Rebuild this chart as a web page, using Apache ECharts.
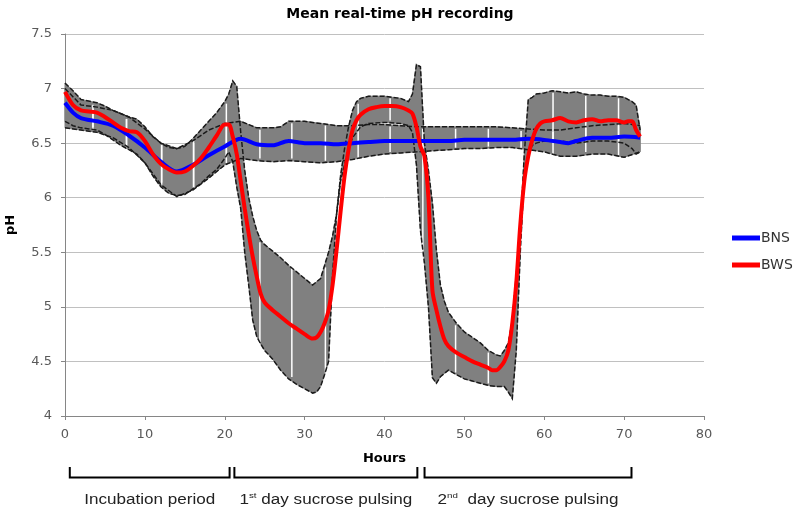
<!DOCTYPE html>
<html>
<head>
    <meta charset="utf-8">
    <title>Mean real-time pH recording</title>
    <script src="https://cdn.jsdelivr.net/npm/echarts@6/dist/echarts.min.js"></script>
    <style>
        html, body { margin: 0; padding: 0; background: #fff; }
        #chart { width: 800px; height: 511px; }
    </style>
</head>
<body>
<div id="chart"></div>
<script>
    // ---- data: [hour, pH] ----
    var bnsMean = [[0, 6.87], [1, 6.78], [2, 6.73], [4, 6.70], [6, 6.66], [8, 6.57], [10, 6.46], [12, 6.33], [14, 6.24],
        [16, 6.30], [18, 6.39], [20, 6.47], [22, 6.54], [24, 6.49], [26, 6.48], [28, 6.52], [30, 6.50], [32, 6.50],
        [34, 6.49], [36, 6.50], [38, 6.51], [40, 6.52], [42, 6.52], [44, 6.52], [46, 6.52], [48, 6.52], [50, 6.53],
        [52, 6.53], [54, 6.53], [56, 6.53], [58, 6.54], [60, 6.53], [62, 6.51], [63, 6.50], [64, 6.52], [66, 6.55],
        [68, 6.55], [70, 6.56], [72, 6.55]];
    var bnsUpper = [[0, 7.0], [2, 6.85], [4, 6.83], [6, 6.80], [8, 6.74], [10, 6.63], [12, 6.50], [14, 6.45], [16, 6.52],
        [18, 6.62], [20, 6.68], [22, 6.70], [24, 6.64], [26, 6.64], [27, 6.65], [28, 6.70], [30, 6.70], [32, 6.68],
        [34, 6.66], [36, 6.66], [38, 6.67], [40, 6.67], [42, 6.66], [44, 6.65], [46, 6.65], [48, 6.65], [50, 6.65],
        [52, 6.65], [54, 6.65], [56, 6.64], [58, 6.63], [60, 6.62], [62, 6.62], [64, 6.64], [66, 6.66], [68, 6.67],
        [70, 6.68], [72, 6.66]];
    var bnsLower = [[0, 6.64], [2, 6.62], [4, 6.60], [6, 6.55], [8, 6.46], [10, 6.32], [12, 6.12], [14, 6.01], [16, 6.07],
        [18, 6.18], [20, 6.30], [22, 6.36], [24, 6.34], [26, 6.33], [28, 6.34], [30, 6.33], [32, 6.32], [34, 6.33],
        [36, 6.35], [38, 6.38], [40, 6.40], [42, 6.41], [44, 6.42], [46, 6.43], [48, 6.44], [50, 6.45], [52, 6.45],
        [54, 6.46], [56, 6.46], [58, 6.44], [60, 6.42], [62, 6.38], [64, 6.38], [66, 6.40], [68, 6.40], [70, 6.37],
        [72, 6.42]];

    var bwsMean = [[0, 6.97], [1, 6.85], [2, 6.80], [3, 6.79], [4, 6.78], [5, 6.74], [6, 6.69], [7, 6.64], [8, 6.61],
        [9, 6.60], [10, 6.52], [11, 6.40], [12, 6.31], [13, 6.26], [14, 6.23], [15, 6.24], [16, 6.29], [17, 6.36],
        [18, 6.46], [19, 6.57], [20, 6.67], [20.5, 6.67], [21, 6.56], [21.5, 6.40], [22, 6.15], [22.5, 5.90],
        [23, 5.67], [23.5, 5.46], [24, 5.28], [24.5, 5.12], [25, 5.04], [26, 4.97], [27, 4.91], [28, 4.85], [29, 4.80],
        [30, 4.75], [31, 4.71], [31.5, 4.72], [32, 4.77], [32.5, 4.85], [33, 4.97], [33.5, 5.20], [34, 5.52],
        [34.5, 5.87], [35, 6.20], [35.5, 6.44], [36, 6.62], [36.5, 6.71], [37, 6.76], [38, 6.81], [39, 6.83],
        [40, 6.84], [41, 6.84], [42, 6.83], [43, 6.80], [43.5, 6.77], [44, 6.65], [44.5, 6.47], [45, 6.38],
        [45.5, 6.00], [46, 5.15], [46.5, 4.97], [47, 4.82], [47.5, 4.70], [48, 4.64], [49, 4.58], [50, 4.54],
        [51, 4.50], [52, 4.47], [53, 4.44], [53.5, 4.42], [54, 4.42], [54.5, 4.45], [55, 4.50], [55.5, 4.60],
        [56, 4.85], [56.5, 5.22], [57, 5.75], [57.5, 6.15], [58, 6.38], [58.5, 6.53], [59, 6.63], [59.5, 6.68],
        [60, 6.70], [61, 6.71], [62, 6.73], [63, 6.70], [64, 6.69], [65, 6.71], [66, 6.72], [67, 6.70], [68, 6.71],
        [69, 6.71], [70, 6.69], [70.5, 6.70], [71, 6.70], [71.5, 6.62], [72, 6.56]];
    var bwsUpper = [[0, 7.05], [1, 6.98], [2, 6.90], [4, 6.87], [5, 6.84], [6, 6.80], [7, 6.77], [8, 6.74], [9, 6.72],
        [10, 6.65], [11, 6.56], [12, 6.50], [13, 6.46], [14, 6.45], [15, 6.47], [16, 6.54], [17, 6.62], [18, 6.70],
        [19, 6.78], [20, 6.88], [20.5, 6.95], [21, 7.07], [21.5, 7.02], [22, 6.60], [22.5, 6.25], [23, 6.00],
        [23.5, 5.83], [24, 5.70], [24.5, 5.61], [25, 5.57], [26, 5.51], [27, 5.45], [28, 5.38], [29, 5.32],
        [30, 5.26], [31, 5.20], [32, 5.26], [32.5, 5.38], [33, 5.50], [33.5, 5.65], [34, 5.85], [34.5, 6.20],
        [35, 6.45], [35.5, 6.65], [36, 6.80], [36.5, 6.88], [37, 6.91], [38, 6.93], [40, 6.93], [42, 6.91],
        [43, 6.88], [43.5, 6.95], [44, 7.22], [44.5, 7.20], [45, 6.50], [45.5, 6.25], [46, 5.95], [46.5, 5.52],
        [47, 5.20], [47.5, 5.05], [48, 4.95], [49, 4.85], [50, 4.77], [51, 4.72], [52, 4.67], [53, 4.60],
        [54, 4.56], [54.5, 4.55], [55, 4.60], [55.5, 4.67], [56, 4.88], [56.5, 5.30], [57, 5.70], [57.5, 6.40],
        [58, 6.90], [58.5, 6.92], [59, 6.95], [60, 6.96], [61, 6.98], [62, 6.97], [63, 6.96], [64, 6.97],
        [65, 6.95], [66, 6.94], [67, 6.94], [68, 6.93], [69, 6.93], [70, 6.92], [71, 6.88], [71.5, 6.85], [72, 6.62]];
    var bwsLower = [[0, 6.70], [1, 6.66], [2, 6.64], [3, 6.63], [4, 6.62], [5, 6.58], [6, 6.53], [7, 6.48], [8, 6.44],
        [9, 6.40], [10, 6.32], [11, 6.20], [12, 6.10], [13, 6.04], [14, 6.02], [15, 6.03], [16, 6.08], [17, 6.13],
        [18, 6.20], [19, 6.26], [20, 6.36], [20.5, 6.42], [21, 6.33], [21.5, 6.10], [22, 5.90], [22.5, 5.50],
        [23, 5.20], [23.5, 4.88], [24, 4.73], [24.5, 4.66], [25, 4.60], [26, 4.52], [27, 4.42], [28, 4.34],
        [29, 4.29], [30, 4.25], [31, 4.21], [31.5, 4.22], [32, 4.27], [32.5, 4.38], [33, 4.50], [33.5, 5.30],
        [34, 5.85], [34.5, 6.15], [35, 6.30], [35.5, 6.45], [36, 6.55], [36.5, 6.60], [37, 6.65], [38, 6.68],
        [40, 6.69], [42, 6.68], [43, 6.66], [43.5, 6.60], [44, 6.30], [44.5, 5.70], [45, 5.40], [45.5, 5.00],
        [46, 4.35], [46.5, 4.30], [47, 4.36], [48, 4.42], [49, 4.38], [50, 4.34], [51, 4.32], [52, 4.30],
        [53, 4.28], [54, 4.27], [55, 4.27], [55.5, 4.22], [56, 4.16], [56.5, 4.60], [57, 5.50], [57.5, 6.20],
        [58, 6.40], [58.5, 6.48], [59, 6.50], [60, 6.52], [62, 6.52], [64, 6.50], [66, 6.52], [68, 6.52],
        [70, 6.50], [71, 6.45], [71.5, 6.40], [72, 6.42]];

    // hours where the error bars leave a white gap
    var gapHours = [3.5, 7.7, 12.1, 16.1, 20.2, 24.4, 28.4, 32.6, 36.7, 40.7, 44.8, 48.9, 53, 57.1, 61.1, 65.2, 69.3];

    var periods = [
        {from: 0.6, to: 20.6, label: 'Incubation period'},
        {from: 21.2, to: 44.1, label: '1{s|st} day sucrose pulsing'},
        {from: 45.0, to: 70.9, label: '2{s|nd}  day sucrose pulsing'}
    ];

    var chart = echarts.init(document.getElementById('chart'));

    function nearest(arr, h) {
        var best = arr[0];
        arr.forEach(function (p) {
            if (Math.abs(p[0] - h) < Math.abs(best[0] - h)) best = p;
        });
        return best[1];
    }

    // error bands (gray fill, white gaps, dark capped edges)
    function renderBands(params, api) {
        var bands = [[bnsUpper, bnsLower], [bwsUpper, bwsLower]];
        var fills = [], gaps = [], edges = [];
        bands.forEach(function (b) {
            var top = b[0].map(function (p) { return api.coord(p); });
            var bot = b[1].map(function (p) { return api.coord(p); });
            fills.push({
                type: 'polygon',
                shape: {points: top.concat(bot.slice().reverse())},
                style: {fill: '#808080', stroke: '#808080', lineWidth: 1}
            });
            gapHours.forEach(function (h) {
                var p1 = api.coord([h, nearest(b[0], h)]);
                var p2 = api.coord([h, nearest(b[1], h)]);
                gaps.push({
                    type: 'line',
                    shape: {x1: p1[0], y1: p1[1] + 2, x2: p2[0], y2: p2[1] - 2},
                    style: {stroke: '#ffffff', lineWidth: 1.5}
                });
            });
            [top, bot].forEach(function (pts) {
                edges.push({
                    type: 'polyline',
                    shape: {points: pts},
                    style: {stroke: '#1a1a1a', lineWidth: 1.5, lineDash: [5, 2], fill: null}
                });
            });
        });
        return {type: 'group', children: fills.concat(gaps, edges)};
    }

    // brackets under the axis, one per period
    var graphics = [];
    periods.forEach(function (p) {
        var x1 = 65 + p.from * 7.99;
        var x2 = 65 + p.to * 7.99;
        graphics.push({
            type: 'polyline',
            shape: {points: [[x1, 467], [x1, 477.5], [x2, 477.5], [x2, 467]]},
            style: {stroke: '#000', lineWidth: 2, fill: null}
        });
        graphics.push({
            type: 'text',
            x: (x1 + x2) / 2,
            y: 500,
            scaleX: 1.22,
            style: {
                text: p.label,
                fontFamily: 'Liberation Sans',
                fontSize: 14,
                fill: '#222',
                align: 'center',
                verticalAlign: 'middle',
                rich: {
                    s: {fontSize: 8, verticalAlign: 'top', lineHeight: 16, fill: '#222'}
                }
            }
        });
    });

    var option = {
        animation: false,
        backgroundColor: '#fff',
        textStyle: {fontFamily: 'DejaVu Sans'},
        title: {
            text: 'Mean real-time pH recording',
            left: 'center',
            top: 2,
            textStyle: {fontSize: 14, fontWeight: 'bold', color: '#000', fontFamily: 'DejaVu Sans'}
        },
        legend: {
            data: ['BNS', 'BWS'],
            orient: 'vertical',
            left: 727,
            top: 226,
            icon: 'rect',
            itemWidth: 28,
            itemHeight: 5,
            itemGap: 13,
            textStyle: {fontSize: 14, color: '#333', padding: [0, 0, 0, -4]}
        },
        grid: {left: 65, right: 96, top: 34, bottom: 95, outerBoundsMode: 'none', containLabel: false},
        xAxis: {
            type: 'value',
            min: 0,
            max: 80,
            interval: 10,
            name: 'Hours',
            nameLocation: 'middle',
            nameGap: 36,
            nameTextStyle: {fontWeight: 'bold', fontSize: 13, color: '#000'},
            axisLine: {lineStyle: {color: '#868686'}},
            axisTick: {show: true, length: 4, lineStyle: {color: '#868686'}},
            axisLabel: {color: '#595959', fontSize: 13, margin: 12},
            splitLine: {show: false}
        },
        yAxis: {
            type: 'value',
            min: 4,
            max: 7.5,
            interval: 0.5,
            name: 'pH',
            nameLocation: 'middle',
            nameRotate: 90,
            nameGap: 48,
            nameTextStyle: {fontWeight: 'bold', fontSize: 13, color: '#000'},
            axisLine: {show: true, lineStyle: {color: '#868686'}},
            axisTick: {show: true, length: 4, lineStyle: {color: '#868686'}},
            axisLabel: {color: '#595959', fontSize: 13, margin: 13},
            splitLine: {lineStyle: {color: '#c0c0c0'}}
        },
        graphic: graphics,
        series: [
            {
                name: 'bands',
                type: 'custom',
                silent: true,
                z: 1,
                data: [[0, 4]],
                renderItem: renderBands
            },
            {
                name: 'BNS',
                type: 'line',
                data: bnsMean,
                showSymbol: false,
                smooth: 0.3,
                z: 3,
                itemStyle: {color: '#0000ff'},
                lineStyle: {color: '#0000ff', width: 4}
            },
            {
                name: 'BWS',
                type: 'line',
                data: bwsMean,
                showSymbol: false,
                smooth: 0.3,
                z: 4,
                itemStyle: {color: '#ff0000'},
                lineStyle: {color: '#ff0000', width: 4}
            }
        ]
    };

    chart.setOption(option);
</script>
</body>
</html>
